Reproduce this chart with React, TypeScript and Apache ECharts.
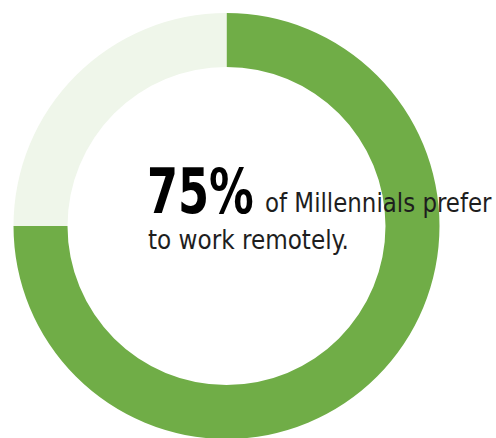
import React, { useEffect, useRef } from "react";
import * as echarts from "echarts";

const categories = ["Prefer to work remotely", "Other"];
const values = [75, 25];
const colors = ["#70AD47", "#EFF6EA"];
const headline = "75%";
const line1 = "of Millennials prefer";
const line2 = "to work remotely.";

export default function App() {
  const ref = useRef<HTMLDivElement>(null);
  useEffect(() => {
    if (!ref.current) return;
    const chart = echarts.init(ref.current, null, { renderer: "svg" });
    chart.setOption({
      animation: false,
      backgroundColor: "#ffffff",
      series: [
        {
          type: "pie",
          center: [226.5, 226],
          radius: [159, 213],
          startAngle: 90,
          clockwise: true,
          label: { show: false },
          labelLine: { show: false },
          silent: true,
          data: categories.map((c, i) => ({ name: c, value: values[i], itemStyle: { color: colors[i] } })),
        },
      ],
      graphic: [
        {
          type: "text",
          x: 147,
          y: 160,
          scaleX: 0.8,
          z: 10,
          style: {
            text: headline,
            font: 'bold 62px "DejaVu Sans Condensed"',
            fill: "#000000",
          },
        },
        {
          type: "text",
          x: 265,
          y: 189.5,
          scaleX: 0.98,
          z: 10,
          style: {
            text: line1,
            font: '500 26px "DejaVu Sans Condensed"',
            fill: "#1e1e1e",
          },
        },
        {
          type: "text",
          x: 148,
          y: 226.5,
          scaleX: 0.99,
          z: 10,
          style: {
            text: line2,
            font: '500 26px "DejaVu Sans Condensed"',
            fill: "#1e1e1e",
          },
        },
      ],
    });
    return () => chart.dispose();
  }, []);
  return <div ref={ref} style={{ width: 496, height: 438, position: "absolute", left: 0, top: 0 }} />;
}
